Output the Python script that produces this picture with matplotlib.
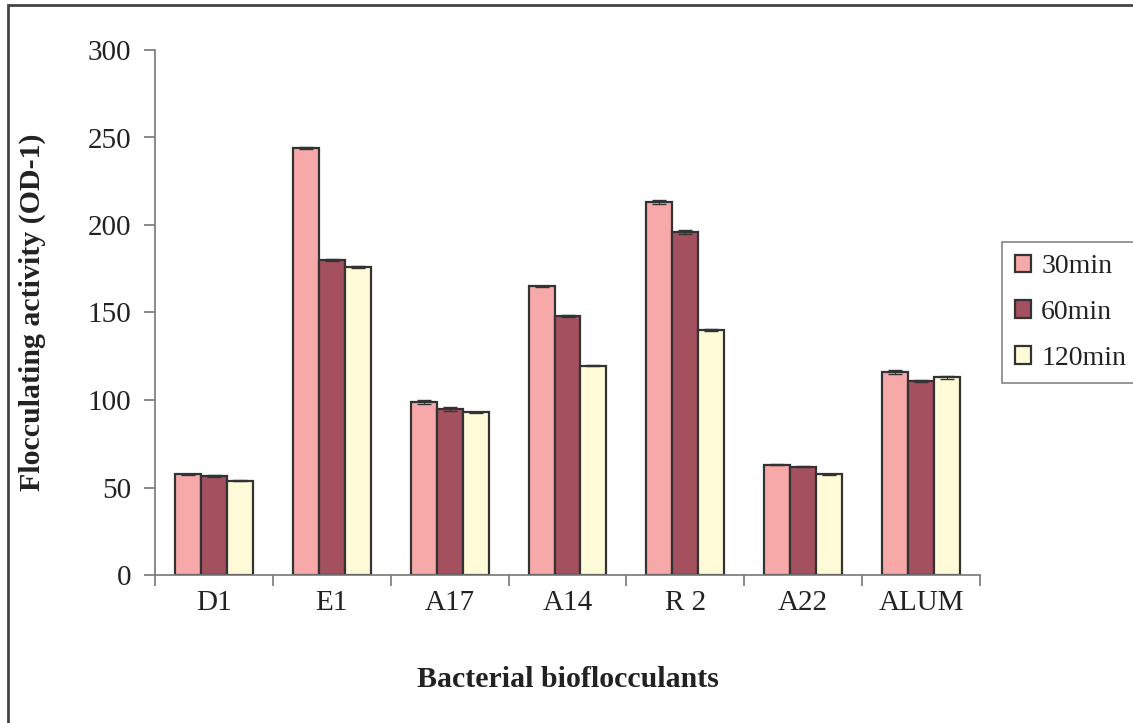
import matplotlib.pyplot as plt
import matplotlib.patches as patches
import numpy as np

plt.rcParams['font.family'] = ['Liberation Serif', 'DejaVu Serif']

strains = ['D1', 'E1', 'A17', 'A14', 'R 2', 'A22', 'ALUM']
series = ['30min', '60min', '120min']
act_30 = [57.5, 244, 99, 165, 213, 63, 116]
act_60 = [56.5, 180, 95, 148, 196, 62, 111]
act_120 = [54, 176, 93, 119.5, 140, 57.5, 113]
err_30 = [0.5, 0.3, 1.0, 0.4, 1.0, 0.3, 1.0]
err_60 = [0.5, 0.3, 1.0, 0.3, 1.0, 0.3, 0.5]
err_120 = [0.3, 0.3, 0.3, 0.3, 0.3, 0.3, 1.0]
colors = ['#f7a9aa', '#a5505f', '#fffad7']

fig = plt.figure(figsize=(11.33, 7.23), dpi=100)
ax = fig.add_axes([155 / 1133, 148 / 723, 825 / 1133, 525 / 723])

x = np.arange(len(strains))
w = 0.22
data = [act_30, act_60, act_120]
errs = [err_30, err_60, err_120]
for k in range(3):
    pos = x + (k - 1) * w
    ax.bar(pos, data[k], w, color=colors[k], edgecolor='#333333', linewidth=1.6,
           label=series[k], zorder=2)
    ax.errorbar(pos, data[k], yerr=errs[k], fmt='none', ecolor='#333333',
                elinewidth=0.8, capsize=5, capthick=1.0, zorder=3)

ax.set_xlim(-0.5, len(strains) - 0.5)
ax.set_ylim(0, 300)
ax.set_yticks(range(0, 301, 50))
ax.set_xticks(x)
ax.set_xticklabels(strains)
ax.set_xticks(np.arange(-0.5, len(strains)), minor=True)
ax.tick_params(axis='x', which='major', length=0, pad=11, labelsize=21, labelcolor='#222222')
ax.tick_params(axis='x', which='minor', length=8, direction='out', color='#777777', width=1.2)
ax.tick_params(axis='y', length=8, direction='out', color='#777777', width=1.2,
               labelsize=21, labelcolor='#222222', pad=9)

for s in ['top', 'right']:
    ax.spines[s].set_visible(False)
for s in ['left', 'bottom']:
    ax.spines[s].set_color('#777777')
    ax.spines[s].set_linewidth(1.2)

ax.set_xlabel('Bacterial bioflocculants', fontsize=21.5, fontweight='bold',
              color='#222222', labelpad=36)
ax.set_ylabel('Flocculating activity (OD-1)', fontsize=21.5, fontweight='bold',
              color='#222222', labelpad=30)

leg = ax.legend(loc='center left', bbox_to_anchor=(1.027, 0.5), fontsize=20,
                frameon=True, fancybox=False, edgecolor='#666666', borderaxespad=0,
                handlelength=0.6, handleheight=0.6, handletextpad=0.35,
                labelspacing=0.75, borderpad=0.45)
leg.get_frame().set_linewidth(1.2)
for t in leg.get_texts():
    t.set_color('#222222')

# outer frame (only top and left visible)
fig.patches.append(patches.Rectangle((8 / 1133, -0.2), 2, 1.2 - 5 / 723, fill=False,
                                     edgecolor='#444444', linewidth=2,
                                     transform=fig.transFigure, figure=fig))

fig.savefig('out.png', dpi=100)
